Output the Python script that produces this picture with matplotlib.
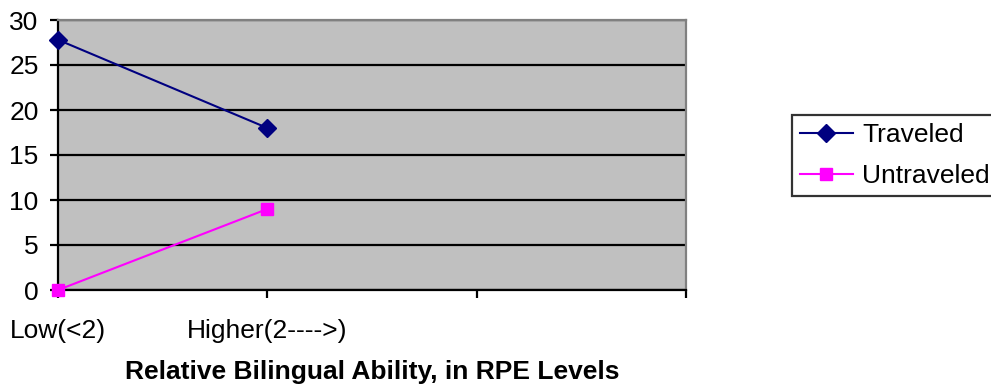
import matplotlib
matplotlib.use("Agg")
import matplotlib.pyplot as plt

plt.rcParams['font.family'] = ['Liberation Sans', 'DejaVu Sans']

categories = ["Low(<2)", "Higher(2---->)"]
traveled = [27.8, 18]
untraveled = [0, 9]

W, H = 991, 390
fig = plt.figure(figsize=(W / 100, H / 100), dpi=100)
ax = fig.add_axes([58 / W, (H - 290) / H, (686 - 58) / W, 270 / H])
ax.set_facecolor('#C0C0C0')

x = list(range(len(categories)))
ax.plot(x, traveled, color='#000080', lw=1.5, marker='D', ms=9.5,
        label='Traveled', clip_on=False, zorder=5)
ax.plot(x, untraveled, color='#FF00FF', lw=1.5, marker='s', ms=9,
        label='Untraveled', clip_on=False, zorder=5)

ax.set_xlim(0, 3)
ax.set_ylim(0, 30)
ax.set_yticks(range(0, 31, 5))
ax.set_xticks([0, 1, 2, 3])
ax.set_xticklabels(categories + ['', ''])
ax.yaxis.grid(True, color='black', lw=1.6)
ax.set_axisbelow(True)

for s in ('left', 'bottom'):
    ax.spines[s].set_color('black')
    ax.spines[s].set_linewidth(1.6)
for s in ('top', 'right'):
    ax.spines[s].set_color('#808080')
    ax.spines[s].set_linewidth(1.6)

ax.tick_params(axis='both', direction='out', length=6, width=1.6,
               labelsize=19, color='black')
ax.tick_params(axis='x', pad=15)
ax.tick_params(axis='y', pad=8)

ax.set_xlabel('Relative Bilingual Ability, in RPE Levels', fontsize=19,
              fontweight='bold', labelpad=12)

leg = fig.legend(loc='upper left', bbox_to_anchor=(792 / W, 1 - 115 / H),
                 fontsize=19, frameon=True, fancybox=False, edgecolor='black',
                 handlelength=2.0, handletextpad=0.35, borderpad=0.3,
                 labelspacing=0.65, borderaxespad=0)
leg.get_frame().set_linewidth(1.6)

fig.savefig('out.png', dpi=100)
